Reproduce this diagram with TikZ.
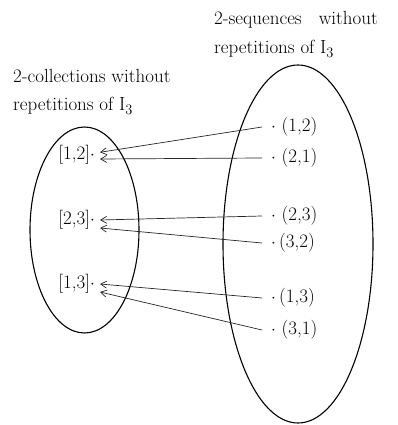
\documentclass[tikz,border=0pt]{standalone}
\usetikzlibrary{arrows.meta}
\begin{document}
\begin{tikzpicture}[x=1pt,y=1pt,
  txt/.style={font=\fontsize{19}{23}\selectfont},
  lbl/.style={txt, inner sep=0pt, anchor=base west},
  rpt/.style={txt, inner sep=0pt, inner xsep=9pt, anchor=west},
  lpt/.style={txt, inner sep=0pt, inner xsep=5pt, anchor=east},
  setline/.style={line width=1.1pt},
  maparrow/.style={line width=0.7pt, draw=black!85, -{Straight Barb[length=6pt,width=7pt,line width=0.7pt]}}]
\useasboundingbox (0,0) rectangle (397,425);
% labels
\node[lbl] (tR1) at (214,400) {2-sequences\hspace{17pt}without};
\node[lbl] (tR2) at (214,371) {repetitions of I$_3$};
\node[lbl] (tL1) at (13,342) {2-collections without};
\node[lbl] (tL2) at (13,314) {repetitions of I$_3$};
% sets
\draw[setline] (84.5,195) ellipse [x radius=54.5, y radius=103];
\draw[setline] (298,181) ellipse [x radius=75, y radius=179];
% right elements
\node[rpt] (r12) at (262,298) {$\cdot$ (1,2)};
\node[rpt] (r21) at (262,267) {$\cdot$ (2,1)};
\node[rpt] (r23) at (262,209) {$\cdot$ (2,3)};
\node[rpt] (r32) at (262,182) {$\cdot$\,(3,2)};
\node[rpt] (r13) at (262,127) {$\cdot$\,(1,3)};
\node[rpt] (r31) at (262,95) {$\cdot$ (3,1)};
% left elements
\node[lpt] (l12) at (100,270) {[1,2]$\cdot$};
\node[lpt] (l23) at (100,205) {[2,3]$\cdot$};
\node[lpt] (l13) at (100,141) {[1,3]$\cdot$};
% maps
\draw[maparrow] (r12.west) -- ([yshift=2.7pt]l12.east);
\draw[maparrow] (r21.west) -- ([yshift=-4pt]l12.east);
\draw[maparrow] (r23.west) -- (l23.east);
\draw[maparrow] (r32.west) -- ([yshift=-8pt]l23.east);
\draw[maparrow] (r13.west) -- (l13.east);
\draw[maparrow] (r31.west) -- ([yshift=-8pt]l13.east);
\end{tikzpicture}
\end{document}
